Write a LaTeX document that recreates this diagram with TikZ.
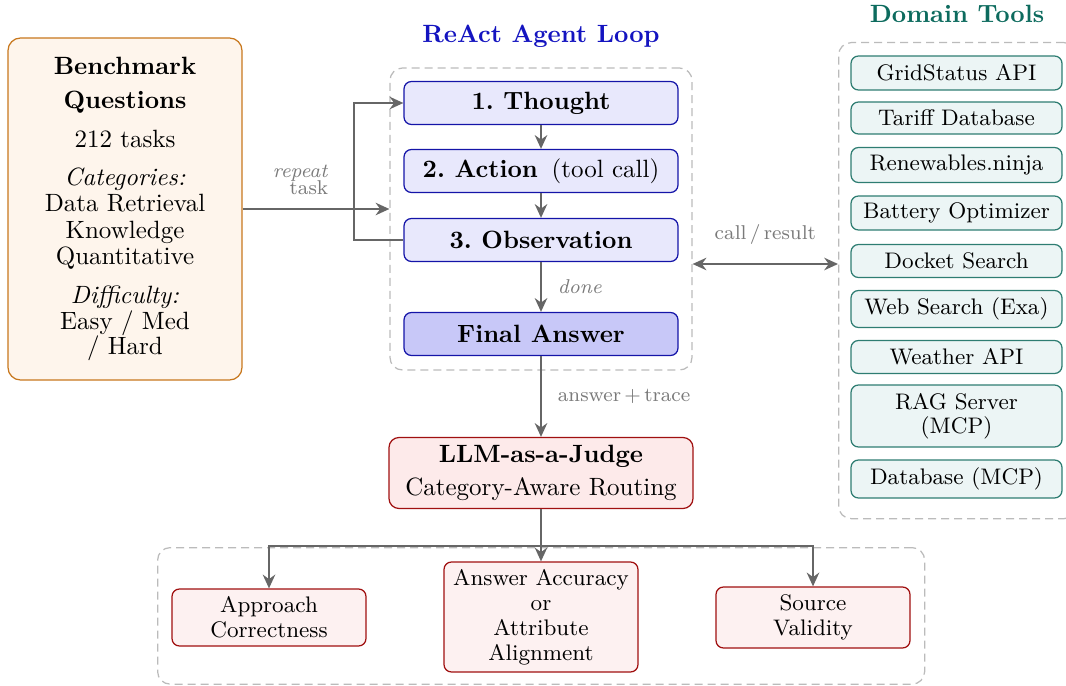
\documentclass[tikz,border=0pt]{standalone}
\usetikzlibrary{arrows.meta}
\definecolor{benchfill}{HTML}{FEF5EC}
\definecolor{benchdraw}{HTML}{C8781E}
\definecolor{loopfill}{HTML}{E8E8FC}
\definecolor{finalfill}{HTML}{C8C8F8}
\definecolor{loopdraw}{HTML}{1414A8}
\definecolor{looptitle}{HTML}{1414C0}
\definecolor{tooltitle}{HTML}{0D6B5E}
\definecolor{toolfill}{HTML}{ECF5F5}
\definecolor{tooldraw}{HTML}{2E7D72}
\definecolor{judgefill}{HTML}{FDEAEA}
\definecolor{critfill}{HTML}{FDF1F1}
\definecolor{reddraw}{HTML}{A01010}
\definecolor{arrowgray}{HTML}{666666}
\definecolor{labelgray}{HTML}{7A7A7A}
\definecolor{dashgray}{HTML}{BBBBBB}
\tikzset{
  group/.style={draw=dashgray, dashed, dash pattern=on 3.2pt off 2pt, rounded corners=5pt, line width=0.5pt},
  loopbox/.style={draw=loopdraw, fill=loopfill, rounded corners=3pt, line width=0.5pt, minimum width=109.6pt, minimum height=17.2pt, font=\bfseries, inner sep=0pt},
  toolbox/.style={draw=tooldraw, fill=toolfill, rounded corners=3pt, line width=0.5pt, minimum width=84.4pt, font=\small, inner sep=0pt, align=center},
  critbox/.style={draw=reddraw, fill=critfill, rounded corners=3pt, line width=0.5pt, minimum width=77.6pt, align=center, inner sep=0pt, font=\fontsize{9}{10}\selectfont},
  tip/.style={Stealth[length=5.5pt,width=5pt]},
  flow/.style={draw=arrowgray, line width=0.8pt, -{Stealth[length=5.5pt,width=5pt]}},
  plain/.style={draw=arrowgray, line width=0.8pt},
  lbl/.style={text=labelgray, font=\footnotesize},
}
\begin{document}
\frenchspacing
\begin{tikzpicture}[x=0.4pt,y=-0.4pt]
\useasboundingbox (0,0) rectangle (1066,686);

% Benchmark
\node[draw=benchdraw, fill=benchfill, rounded corners=5pt, line width=0.5pt,
  minimum width=93.6pt, minimum height=136.8pt, align=center, inner sep=0pt,
  font=\fontsize{10}{10.4}\selectfont] (bench) at (125,209)
  {{\bfseries Benchmark}\\[3.2pt] {\bfseries Questions}\\[5.2pt]
   212 tasks\\[4.8pt] \textit{Categories:}\\ Data Retrieval\\[0.4pt] Knowledge\\ Quantitative\\[5.2pt]
   \textit{Difficulty:}\\ Easy / Med\\[-0.4pt] / Hard};

% ReAct loop
\node[font=\bfseries, text=looptitle] (looptitle) at (541,36) {ReAct Agent Loop};
\node[group, minimum width=120.8pt, minimum height=120.8pt] (loop) at (541,219) {};
\node[loopbox] (thought) at (541,103) {1. Thought};
\node[loopbox] (action) at (541,171) {2. Action \,\mdseries(tool call)};
\node[loopbox] (obs) at (541,240) {3. Observation};
\node[loopbox, fill=finalfill] (final) at (541,334) {Final Answer};

\draw[flow] (thought) -- (action);
\draw[flow] (action) -- (obs);
\draw[flow] (obs) -- node[lbl, right=3pt, font=\footnotesize\itshape] (done) {done} (final);
\coordinate (loopx) at (354,0);
\draw[flow] (obs.west) -- (obs.west -| loopx) -- (thought.west -| loopx) -- (thought.west);
\draw[flow] (bench.east) -- (bench.east -| loop.west);
\node[lbl, align=right, anchor=east] (repeat) at (337,180) {\textit{repeat}\\[-2.6pt] task};

% Domain tools
\node[font=\bfseries, text=tooltitle] (tooltitle) at (957,14) {Domain Tools};
\node[group, minimum width=95.2pt, minimum height=190.4pt, anchor=north west] (tools) at (838,42) {};
\node[toolbox, minimum height=13.6pt] (t1) at (956.5,73) {GridStatus API};
\node[toolbox, minimum height=12.8pt] (t2) at (956.5,118) {Tariff Database};
\node[toolbox, minimum height=14pt] (t3) at (956.5,165) {Renewables.ninja};
\node[toolbox, minimum height=13.6pt] (t4) at (956.5,213) {Battery Optimizer};
\node[toolbox, minimum height=13.2pt] (t5) at (956.5,261) {Docket Search};
\node[toolbox, minimum height=14.8pt] (t6) at (956.5,309) {Web Search (Exa)};
\node[toolbox, minimum height=13.2pt] (t7) at (956.5,357) {Weather API};
\node[toolbox, minimum height=24.8pt, font=\fontsize{9}{9.6}\selectfont] (t8) at (956.5,416) {RAG Server\\(MCP)};
\node[toolbox, minimum height=15.2pt] (t9) at (956.5,479) {Database (MCP)};

\coordinate (cr) at (0,264);
\draw[draw=arrowgray, line width=0.8pt, {Stealth[length=5.5pt,width=5pt]}-{Stealth[length=5.5pt,width=5pt]}]
  (cr -| loop.east) -- node[lbl, above=4pt] (callres) {call\,/\,result} (cr -| tools.west);

% Judge
\node[draw=reddraw, fill=judgefill, rounded corners=4pt, line width=0.5pt,
  minimum width=121.6pt, minimum height=28.4pt, align=center, inner sep=0pt,
  font=\fontsize{10}{13.2}\selectfont] (judge) at (541,473)
  {\textbf{LLM-as-a-Judge}\\Category-Aware Routing};
\draw[flow] (final) -- node[lbl, right=3pt] (anstrace) {answer\,+\,trace} (judge);

% Criteria
\node[group, minimum width=306.8pt, minimum height=54.6pt, anchor=north west] (crit) at (157,547) {};
\node[critbox, minimum height=22.8pt] (appr) at (269,617.5) {Approach\\Correctness};
\node[critbox, minimum height=44pt] (acc) at (541,617) {Answer Accuracy\\or\\Attribute\\Alignment};
\node[critbox, minimum height=24.4pt] (src) at (813,617.5) {Source\\Validity};

\coordinate (br) at (541,546);
\draw[plain] (judge.south) -- (br);
\draw[flow] (br) -| (appr.north);
\draw[flow] (br) -| (src.north);
\draw[flow] (br) -- (acc.north);
\end{tikzpicture}
\end{document}
